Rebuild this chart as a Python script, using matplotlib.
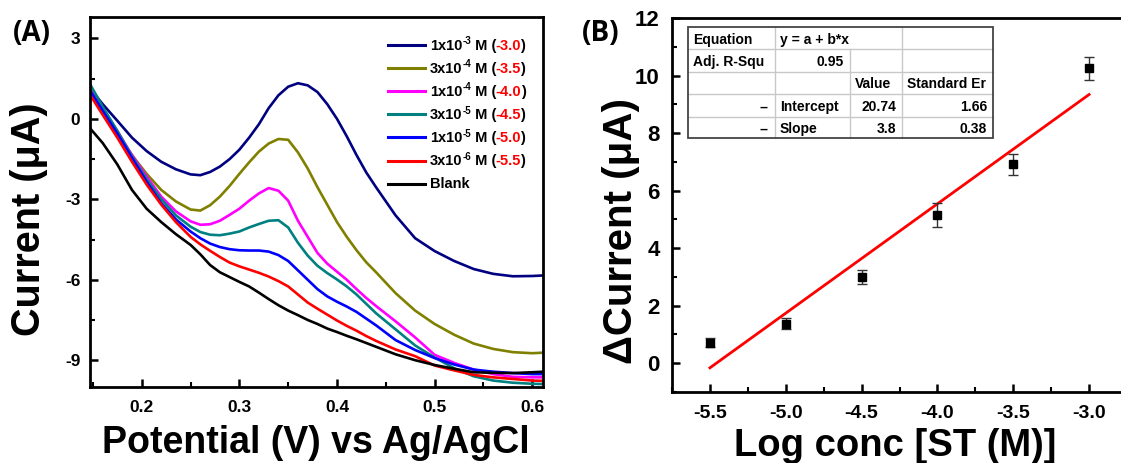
import matplotlib
matplotlib.use("Agg")
import matplotlib.pyplot as plt
from matplotlib.lines import Line2D
from matplotlib.patches import Rectangle
from matplotlib.ticker import MultipleLocator, FormatStrFormatter

plt.rcParams["font.family"] = ["Liberation Sans", "DejaVu Sans"]
plt.rcParams["font.weight"] = "bold"
plt.rcParams["axes.unicode_minus"] = False

# ---------------- Panel A: DPV curves ----------------
potential = [0.147, 0.16, 0.175, 0.19, 0.205, 0.22, 0.235, 0.25, 0.26, 0.27,
             0.28, 0.29, 0.30, 0.31, 0.32, 0.33, 0.34, 0.35, 0.36, 0.37,
             0.38, 0.39, 0.40, 0.41, 0.42, 0.43, 0.44, 0.46, 0.48, 0.50,
             0.52, 0.54, 0.56, 0.58, 0.60, 0.611]

i_1e3 = [1.14, 0.55, -0.07, -0.70, -1.20, -1.60, -1.88, -2.07, -2.10, -1.98,
         -1.78, -1.50, -1.15, -0.70, -0.20, 0.40, 0.88, 1.20, 1.33, 1.25,
         1.00, 0.55, 0.00, -0.65, -1.35, -2.00, -2.55, -3.60, -4.45, -4.93,
         -5.30, -5.60, -5.78, -5.87, -5.86, -5.84]
i_3e4 = [0.95, 0.25, -0.55, -1.35, -2.05, -2.65, -3.08, -3.38, -3.42, -3.22,
         -2.90, -2.50, -2.05, -1.62, -1.22, -0.92, -0.75, -0.78, -1.25, -1.85,
         -2.55, -3.20, -3.85, -4.40, -4.90, -5.35, -5.72, -6.50, -7.15, -7.65,
         -8.05, -8.38, -8.58, -8.70, -8.74, -8.72]
i_1e4 = [1.20, 0.40, -0.45, -1.35, -2.15, -2.90, -3.45, -3.82, -3.95, -3.93,
         -3.80, -3.58, -3.35, -3.05, -2.78, -2.58, -2.68, -3.05, -3.80, -4.40,
         -5.00, -5.40, -5.70, -6.00, -6.35, -6.68, -6.98, -7.55, -8.15, -8.80,
         -9.10, -9.35, -9.52, -9.62, -9.64, -9.64]
i_3e5 = [1.30, 0.45, -0.45, -1.40, -2.25, -3.00, -3.60, -4.02, -4.22, -4.32,
         -4.34, -4.28, -4.20, -4.05, -3.92, -3.80, -3.78, -4.05, -4.62, -5.10,
         -5.48, -5.75, -5.99, -6.25, -6.55, -6.90, -7.25, -7.85, -8.45, -8.90,
         -9.30, -9.60, -9.76, -9.84, -9.88, -9.89]
i_1e5 = [1.05, 0.30, -0.55, -1.45, -2.35, -3.15, -3.75, -4.20, -4.45, -4.65,
         -4.78, -4.86, -4.90, -4.91, -4.91, -4.95, -5.08, -5.30, -5.65, -6.00,
         -6.35, -6.62, -6.82, -7.00, -7.20, -7.45, -7.70, -8.25, -8.62, -8.92,
         -9.16, -9.35, -9.43, -9.48, -9.52, -9.52]
i_3e6 = [0.90, 0.15, -0.70, -1.60, -2.45, -3.20, -3.85, -4.40, -4.68, -4.92,
         -5.15, -5.36, -5.50, -5.62, -5.74, -5.88, -6.05, -6.25, -6.55, -6.85,
         -7.08, -7.30, -7.52, -7.72, -7.90, -8.10, -8.28, -8.60, -8.85, -9.20,
         -9.38, -9.55, -9.64, -9.70, -9.76, -9.77]
i_blank = [-0.35, -0.90, -1.70, -2.65, -3.35, -3.85, -4.30, -4.70, -5.05, -5.45,
           -5.72, -5.90, -6.08, -6.25, -6.48, -6.72, -6.95, -7.15, -7.32, -7.50,
           -7.65, -7.82, -7.95, -8.09, -8.22, -8.36, -8.50, -8.78, -9.00, -9.18,
           -9.32, -9.45, -9.47, -9.48, -9.45, -9.43]

series_currents = [i_1e3, i_3e4, i_1e4, i_3e5, i_1e5, i_3e6, i_blank]
series_colors = ["#000080", "#808000", "#ff00ff", "#008080", "#0000ff", "#ff0000", "#000000"]
conc_mantissa = ["1x10", "3x10", "1x10", "3x10", "1x10", "3x10", "Blank"]
conc_exponent = ["-3", "-4", "-4", "-5", "-5", "-6", None]
log_labels = ["-3.0", "-3.5", "-4.0", "-4.5", "-5.0", "-5.5", None]

# ---------------- Panel B: calibration ----------------
log_conc = [-5.5, -5.0, -4.5, -4.0, -3.5, -3.0]
delta_i = [0.72, 1.38, 3.00, 5.16, 6.91, 10.25]
delta_err = [0.16, 0.20, 0.25, 0.42, 0.35, 0.41]
fit_intercept = 20.74
fit_slope = 3.8
fit_range = [-5.5, -3.0]

table_rows = [
    ["Equation", "y = a + b*x", "", ""],
    ["Adj. R-Squ", "0.95", "", ""],
    ["", "", "Value", "Standard Er"],
    ["--", "Intercept", "20.74", "1.66"],
    ["--", "Slope", "3.8", "0.38"],
]

W, H = 1121, 463
fig = plt.figure(figsize=(W / 100, H / 100), dpi=100)
renderer = fig.canvas.get_renderer()


def add_ax(l, t, r, b):
    return fig.add_axes([l / W, 1 - b / H, (r - l) / W, (b - t) / H])


def fx(px):
    return px / W


def fy(py):
    return 1 - py / H


def style_axis(ax, size_x, size_y):
    for s in ax.spines.values():
        s.set_linewidth(2.0)
    ax.tick_params(which="major", direction="in", length=6, width=1.8,
                   pad=7, labelsize=size_x)
    ax.tick_params(which="minor", direction="in", length=3.5, width=1.5)
    ax.tick_params(axis="y", labelsize=size_y)
    for lab in ax.get_xticklabels() + ax.get_yticklabels():
        lab.set_fontweight("bold")


axA = add_ax(90, 17, 543, 387)
for cur, col in zip(series_currents, series_colors):
    axA.plot(potential, cur, color=col, lw=1.9, solid_joinstyle="round")
axA.set_xlim(0.147, 0.611)
axA.set_ylim(-10, 3.8)
axA.xaxis.set_major_locator(MultipleLocator(0.1))
axA.xaxis.set_minor_locator(MultipleLocator(0.05))
axA.yaxis.set_major_locator(MultipleLocator(3))
axA.yaxis.set_minor_locator(MultipleLocator(1.5))
axA.xaxis.set_major_formatter(FormatStrFormatter("%.1f"))
style_axis(axA, 12.5, 12.5)
axA.tick_params(axis="x", pad=9)

fig.text(fx(316), fy(453), "Potential (V) vs Ag/AgCl", fontsize=27,
         fontweight="bold", ha="center", va="baseline")
fig.text(fx(29), fy(219), "Current (μA)", fontsize=28.5, fontweight="bold",
         rotation=90, ha="center", va="center")
fig.text(fx(13), fy(41), "(A)", fontsize=20, fontweight="bold",
         family=["Open Sans", "DejaVu Sans"], ha="left", va="baseline")

# legend drawn row by row: mantissa, raised exponent, unit, red log value
for k in range(len(series_colors)):
    yc = 45 + k * 23.1
    base = yc + 4.8
    fig.add_artist(Line2D([fx(388), fx(425)], [fy(yc), fy(yc)], color=series_colors[k],
                          lw=2.2, transform=fig.transFigure))
    parts = [(conc_mantissa[k], "black", 10.5, 0, 0)]
    if conc_exponent[k] is not None:
        parts += [(conc_exponent[k], "black", 7, -5.5, 0),
                  (" M (", "black", 10.5, 0, 0),
                  (log_labels[k], "#ff0000", 10.5, 0, -1.5),
                  (")", "black", 10.5, 0, 0)]
    x = 430
    for s, c, size, dy, dx in parts:
        t = fig.text(fx(x + dx), fy(base + dy), s, fontsize=size, fontweight="bold",
                     color=c, ha="left", va="baseline")
        x = t.get_window_extent(renderer).x1

# ---------------- Panel B drawing ----------------
axB = add_ax(672, 18, 1127, 392)
axB.errorbar(log_conc, delta_i, yerr=delta_err, fmt="s", color="black",
             ms=5.5, ecolor="#333333", elinewidth=1.0, capsize=3.5,
             capthick=1.0, zorder=3)
fit_y = [fit_intercept + fit_slope * v for v in fit_range]
axB.plot(fit_range, fit_y, color="#ff0000", lw=2.0, zorder=2)
axB.set_xlim(-5.75, -2.75)
axB.set_ylim(-1, 12)
axB.xaxis.set_major_locator(MultipleLocator(0.5))
axB.xaxis.set_minor_locator(MultipleLocator(0.25))
axB.yaxis.set_major_locator(MultipleLocator(2))
axB.yaxis.set_minor_locator(MultipleLocator(1))
axB.xaxis.set_major_formatter(FormatStrFormatter("%.1f"))
style_axis(axB, 14, 16)
axB.tick_params(axis="x", pad=9)
axB.tick_params(axis="y", pad=9)

fig.text(fx(895), fy(456), "Log conc [ST (M)]", fontsize=27.5,
         fontweight="bold", ha="center", va="baseline")
fig.text(fx(621), fy(231), "ΔCurrent (μA)", fontsize=29, fontweight="bold",
         rotation=90, ha="center", va="center")
fig.text(fx(582), fy(41), "(B)", fontsize=20, fontweight="bold",
         family=["Open Sans", "DejaVu Sans"], ha="left", va="baseline")

# fit-result table
col_edges = [688, 775, 850, 902, 993]
row_edges = [27, 49.3, 71.7, 94, 116.7, 138]
fig.add_artist(Rectangle((fx(688), fy(138)), fx(993) - fx(688), fy(27) - fy(138),
                         transform=fig.transFigure, facecolor="white",
                         edgecolor="none", zorder=5))
for ry in row_edges[1:-1]:
    fig.add_artist(Line2D([fx(688), fx(993)], [fy(ry), fy(ry)], color="#c8c8c8",
                          lw=1.0, transform=fig.transFigure, zorder=6))
for ci, cx in enumerate(col_edges[1:-1], start=1):
    top = row_edges[1] if ci == 2 else row_edges[0]
    fig.add_artist(Line2D([fx(cx), fx(cx)], [fy(top), fy(138)], color="#c8c8c8",
                          lw=1.0, transform=fig.transFigure, zorder=6))
fig.add_artist(Rectangle((fx(688), fy(138)), fx(993) - fx(688), fy(27) - fy(138),
                         transform=fig.transFigure, facecolor="none",
                         edgecolor="#444444", lw=1.3, zorder=7))

for r, row in enumerate(table_rows):
    yc = (row_edges[r] + row_edges[r + 1]) / 2
    for c, s in enumerate(row):
        if not s:
            continue
        numeric = s.replace(".", "").isdigit() or s == "--"
        if numeric:
            x, ha = col_edges[c + 1] - 6, "right"
        else:
            x, ha = col_edges[c] + 5, "left"
        fig.text(fx(x), fy(yc), s, fontsize=10, fontweight="bold", ha=ha,
                 va="center_baseline", zorder=8)

fig.savefig("out.png", dpi=100)
